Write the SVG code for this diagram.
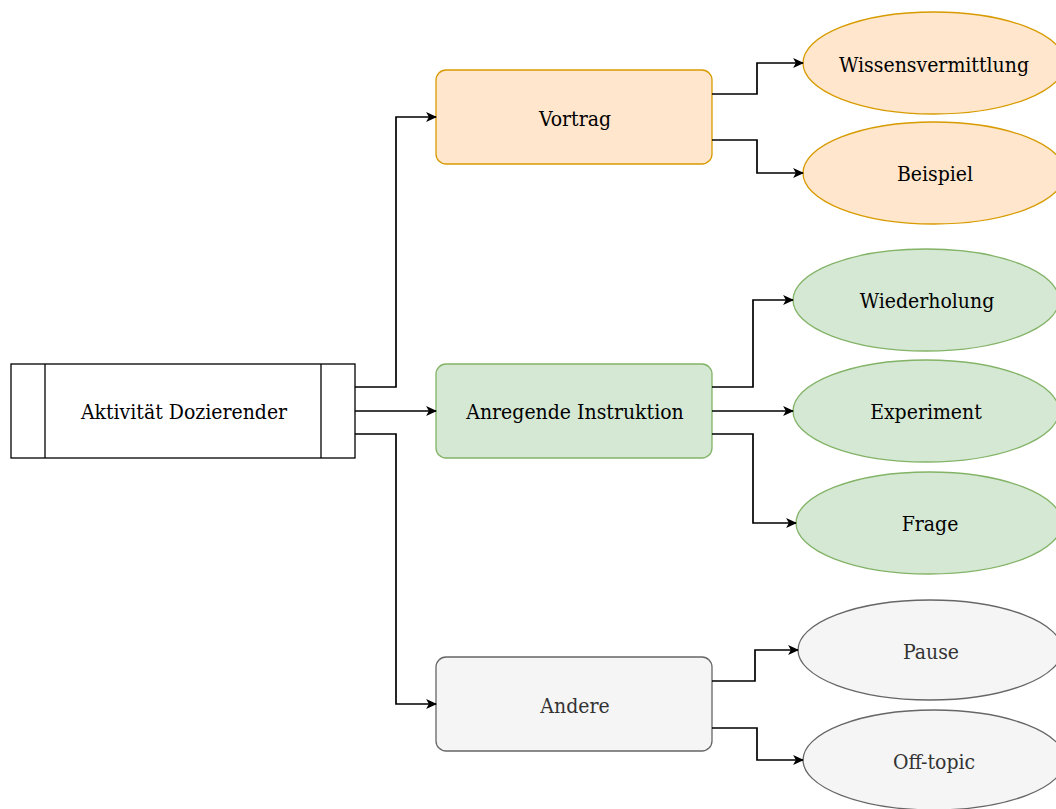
<svg xmlns="http://www.w3.org/2000/svg" width="1056" height="809" viewBox="0 0 1056 809">
<defs>
<marker id="arr" viewBox="0 0 10 10" refX="9" refY="5" markerWidth="11" markerHeight="11" markerUnits="userSpaceOnUse" orient="auto">
<path d="M0,0.5 L10,5 L0,9.5 L2.5,5 Z" fill="#000"/>
</marker>
<style>
text{font-family:"DejaVu Serif",serif;font-stretch:condensed;font-size:21px;text-anchor:middle;dominant-baseline:central;fill:#000}
.orange{fill:#ffe6cc;stroke:#d79b00;stroke-width:1.3}
.green{fill:#d5e8d4;stroke:#82b366;stroke-width:1.3}
.gray{fill:#f5f5f5;stroke:#666666;stroke-width:1.3}
.gt{fill:#333333}
.conn path{fill:none;stroke:#000;stroke-width:1.7;marker-end:url(#arr)}
</style>
</defs>
<rect width="1056" height="809" fill="#fff"/>
<g id="aktivitaet">
<rect x="11" y="364" width="344" height="94" fill="#fff" stroke="#000" stroke-width="1.3"/>
<line x1="45" y1="364" x2="45" y2="458" stroke="#000" stroke-width="1.3"/>
<line x1="321" y1="364" x2="321" y2="458" stroke="#000" stroke-width="1.3"/>
<text x="184" y="412">Aktivität Dozierender</text>
</g>
<g id="vortrag">
<rect class="orange" x="436" y="70" width="276" height="94" rx="10"/>
<text x="575" y="119">Vortrag</text>
</g>
<g id="anregende">
<rect class="green" x="436" y="364" width="276" height="94" rx="10"/>
<text x="575" y="412">Anregende Instruktion</text>
</g>
<g id="andere">
<rect class="gray" x="436" y="657" width="276" height="94" rx="10"/>
<text class="gt" x="575" y="706">Andere</text>
</g>
<g id="wissensvermittlung">
<ellipse class="orange" cx="934" cy="63" rx="131" ry="51"/>
<text x="934" y="65">Wissensvermittlung</text>
</g>
<g id="beispiel">
<ellipse class="orange" cx="934" cy="173" rx="131" ry="51"/>
<text x="935" y="174">Beispiel</text>
</g>
<g id="wiederholung">
<ellipse class="green" cx="926" cy="300" rx="133" ry="51"/>
<text x="927" y="301">Wiederholung</text>
</g>
<g id="experiment">
<ellipse class="green" cx="926" cy="411" rx="133" ry="51"/>
<text x="926" y="412">Experiment</text>
</g>
<g id="frage">
<ellipse class="green" cx="929" cy="523" rx="133" ry="51"/>
<text x="930" y="524">Frage</text>
</g>
<g id="pause">
<ellipse class="gray" cx="930" cy="650" rx="132" ry="50"/>
<text class="gt" x="931" y="652">Pause</text>
</g>
<g id="offtopic">
<ellipse class="gray" cx="934" cy="760" rx="131" ry="50"/>
<text class="gt" x="934" y="762">Off-topic</text>
</g>
<g id="connectors" class="conn">
<path d="M355,387 H396 V117 H436"/>
<path d="M355,411 H436"/>
<path d="M355,434 H396 V704 H436"/>
<path d="M712,94 H757 V63 H803"/>
<path d="M712,140 H757 V173 H803"/>
<path d="M712,387 H753 V300 H793"/>
<path d="M712,411 H793"/>
<path d="M712,434 H753 V523 H796"/>
<path d="M712,681 H755 V650 H798"/>
<path d="M712,728 H757 V760 H803"/>
</g>
</svg>
